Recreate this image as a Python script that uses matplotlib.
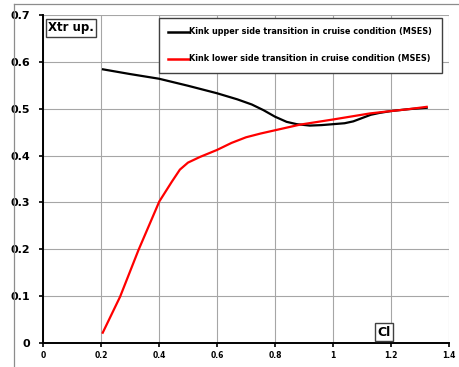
import matplotlib
matplotlib.use("Agg")
import matplotlib.pyplot as plt
from matplotlib.patches import Rectangle
from matplotlib.lines import Line2D

# Data
cl_upper = [0.207, 0.30, 0.40, 0.50, 0.60, 0.67, 0.72, 0.76, 0.80, 0.84, 0.875, 0.92, 0.96, 1.00, 1.04, 1.07, 1.10, 1.13, 1.16, 1.20, 1.26, 1.323]
xtr_upper = [0.584, 0.574, 0.564, 0.549, 0.533, 0.520, 0.509, 0.497, 0.483, 0.472, 0.467, 0.464, 0.465, 0.467, 0.469, 0.473, 0.480, 0.487, 0.491, 0.495, 0.499, 0.502]

cl_lower = [0.206, 0.266, 0.329, 0.401, 0.444, 0.472, 0.50, 0.541, 0.60, 0.65, 0.70, 0.75, 0.80, 0.886, 1.00, 1.128, 1.20, 1.26, 1.323]
xtr_lower = [0.022, 0.099, 0.198, 0.302, 0.344, 0.370, 0.385, 0.397, 0.412, 0.427, 0.439, 0.447, 0.454, 0.466, 0.477, 0.490, 0.495, 0.499, 0.504]

x_ticks = [0, 0.2, 0.4, 0.6, 0.8, 1, 1.2, 1.4]
x_labels = ["0", "0.2", "0.4", "0.6", "0.8", "1", "1.2", "1.4"]
y_ticks = [0, 0.1, 0.2, 0.3, 0.4, 0.5, 0.6, 0.7]
y_labels = ["0", "0.1", "0.2", "0.3", "0.4", "0.5", "0.6", "0.7"]

label_upper = "Kink upper side transition in cruise condition (MSES)"
label_lower = "Kink lower side transition in cruise condition (MSES)"

W, H = 460, 367
fig = plt.figure(figsize=(W / 100, H / 100), dpi=100)
fig.patch.set_facecolor("white")

# outer chart frame (partially cut)
fig.add_artist(Line2D([14 / W, 14 / W], [0, 1 - 4 / H], transform=fig.transFigure, color="#8c8c8c", lw=0.9))
fig.add_artist(Line2D([14 / W, 1], [1 - 4 / H, 1 - 4 / H], transform=fig.transFigure, color="#8c8c8c", lw=0.9))

ax = fig.add_axes([43 / W, 1 - 343 / H, (449 - 43) / W, (343 - 15) / H])
ax.set_xlim(0, 1.4)
ax.set_ylim(0, 0.7)

ax.plot(cl_upper, xtr_upper, color="black", lw=1.6, solid_joinstyle="round", zorder=3)
ax.plot(cl_lower, xtr_lower, color="#ff0000", lw=1.6, solid_joinstyle="round", zorder=4)

ax.set_xticks(x_ticks)
ax.set_xticklabels(x_labels, fontsize=5.5, fontweight="bold")
ax.set_yticks(y_ticks)
ax.set_yticklabels(y_labels, fontsize=8, fontweight="bold")
ax.grid(True, color="#a6a6a6", lw=0.8)
ax.set_axisbelow(True)

for s in ["top", "right"]:
    ax.spines[s].set_visible(False)
ax.spines["left"].set_linewidth(1.4)
ax.spines["bottom"].set_linewidth(1.4)
ax.tick_params(axis="both", direction="out", length=3, width=1.2, color="black")
ax.tick_params(axis="y", pad=6.5)
ax.tick_params(axis="x", pad=3)

# legend box
def px_to_ax(x, y):
    return ((x - 43) / (449 - 43), (343 - y) / (343 - 15))

lx0, ly0 = px_to_ax(159, 73)
lx1, ly1 = px_to_ax(442, 18)
ax.add_patch(Rectangle((lx0, ly0), lx1 - lx0, ly1 - ly0, transform=ax.transAxes,
                       facecolor="white", edgecolor="#404040", lw=1.0, zorder=6))
for (yy, col, lab) in [(32, "black", label_upper), (59, "#ff0000", label_lower)]:
    a0, b = px_to_ax(168, yy)
    a1, _ = px_to_ax(189, yy)
    ax.add_line(Line2D([a0, a1], [b, b], transform=ax.transAxes, color=col, lw=1.8, zorder=7))
    ax.text(a1, b, lab, transform=ax.transAxes, fontsize=5.85, fontweight="bold",
            va="center", ha="left", zorder=7)

# Xtr up. box
tx, ty = px_to_ax(71, 28)
ax.text(tx, ty, "Xtr up.", transform=ax.transAxes, fontsize=8.5, fontweight="bold",
        ha="center", va="center", zorder=7,
        bbox=dict(boxstyle="square,pad=0.2", facecolor="white", edgecolor="#404040", lw=1.0))

# Cl box
cx, cy = px_to_ax(384, 332)
ax.text(cx, cy, "Cl", transform=ax.transAxes, fontsize=9, fontweight="bold",
        ha="center", va="center", zorder=7,
        bbox=dict(boxstyle="square,pad=0.2", facecolor="white", edgecolor="#404040", lw=1.0))

fig.savefig("out.png", dpi=100)
